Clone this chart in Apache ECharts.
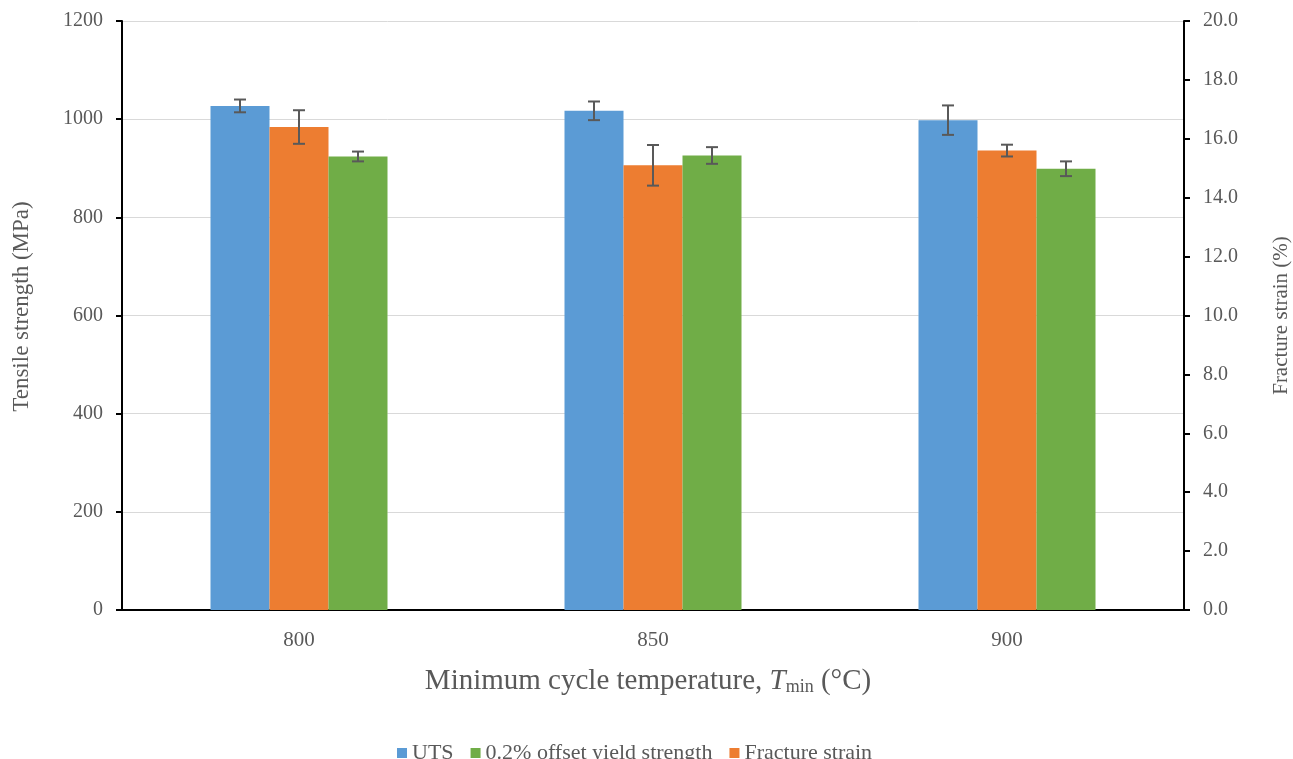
<!DOCTYPE html>
<html>
<head>
<meta charset="utf-8">
<script src="https://cdn.jsdelivr.net/npm/echarts@6/dist/echarts.min.js"></script>
<style>html,body{margin:0;padding:0;background:#fff}#c{width:1293px;height:759px}</style>
</head>
<body>
<div id="c"></div>
<script>
const categories = ['800', '850', '900'];
const utsValues = [1027, 1017, 998];
const utsErrors = [13, 19, 30];
const strainValues = [16.4, 15.1, 15.6];
const strainErrors = [0.57, 0.69, 0.2];
const yieldValues = [924, 926, 899];
const yieldErrors = [10, 17, 15];
const leftTicks = [0, 200, 400, 600, 800, 1000, 1200];
const rightTicks = [0, 2, 4, 6, 8, 10, 12, 14, 16, 18, 20];

const FONT = '"Liberation Serif", "Times New Roman", serif';
const LABEL = '#595959';

function errSeries(name, values, errors, yAxisIndex, slot) {
  return {
    type: 'custom',
    name: name + ' err',
    yAxisIndex: yAxisIndex,
    silent: true,
    z: 5,
    data: values.map((v, i) => [i, v, errors[i]]),
    renderItem: function (params, api) {
      const i = api.value(0), v = api.value(1), e = api.value(2);
      const bw = api.size([1, 0])[0];
      const barW = bw * 0.5 / 3;
      const off = (slot - 1) * barW;
      const hi = api.coord([i, v + e]);
      const lo = api.coord([i, v - e]);
      const x = hi[0] + off;
      const cap = 6;
      const st = { stroke: '#595959', lineWidth: 2 };
      return {
        type: 'group',
        children: [
          { type: 'line', shape: { x1: x, y1: hi[1], x2: x, y2: lo[1] }, style: st },
          { type: 'line', shape: { x1: x - cap, y1: hi[1], x2: x + cap, y2: hi[1] }, style: st },
          { type: 'line', shape: { x1: x - cap, y1: lo[1], x2: x + cap, y2: lo[1] }, style: st }
        ]
      };
    }
  };
}

const chart = echarts.init(document.getElementById('c'), null, { renderer: 'canvas' });
chart.setOption({
  animation: false,
  textStyle: { fontFamily: FONT },
  grid: { left: 122, right: 109, top: 21, bottom: 149, containLabel: false, outerBoundsMode: 'none' },
  legend: {
    top: 737,
    left: 392,
    data: ['UTS', '0.2% offset yield strength', 'Fracture strain'],
    icon: 'rect',
    itemWidth: 10,
    itemHeight: 10,
    itemGap: 17,
    textStyle: { fontFamily: FONT, fontSize: 22, color: LABEL }
  },
  xAxis: {
    type: 'category',
    data: categories,
    axisLine: { lineStyle: { color: '#000', width: 2 } },
    axisTick: { alignWithLabel: true, length: 6, lineStyle: { color: '#000', width: 2 } },
    axisLabel: { fontFamily: FONT, fontSize: 21, color: LABEL, margin: 20 },
    name: '{n|Minimum cycle temperature, }{i|T}{s|min}{n| (°C)}',
    nameLocation: 'middle',
    nameGap: 56,
    nameTextStyle: {
      padding: [0, 10, 0, 0],
      rich: {
        n: { fontFamily: FONT, fontSize: 29, color: LABEL },
        i: { fontFamily: FONT, fontSize: 29, color: LABEL, fontStyle: 'italic' },
        s: { fontFamily: FONT, fontSize: 18, color: LABEL, verticalAlign: 'bottom', padding: [12, 0, 0, 0] }
      }
    }
  },
  yAxis: [
    {
      type: 'value',
      min: leftTicks[0],
      max: leftTicks[leftTicks.length - 1],
      interval: 200,
      axisLine: { show: true, lineStyle: { color: '#000', width: 2 } },
      axisTick: { show: true, length: 6, lineStyle: { color: '#000', width: 2 } },
      axisLabel: { fontFamily: FONT, fontSize: 20, color: LABEL, margin: 19, formatter: v => String(v) },
      splitLine: { show: true, lineStyle: { color: '#d9d9d9', width: 1 } },
      name: 'Tensile strength (MPa)',
      nameLocation: 'middle',
      nameRotate: 90,
      nameGap: 89,
      nameTextStyle: { fontFamily: FONT, fontSize: 23, color: LABEL, padding: [0, 0, 0, 18] }
    },
    {
      type: 'value',
      position: 'right',
      min: rightTicks[0],
      max: rightTicks[rightTicks.length - 1],
      interval: 2,
      axisLine: { show: true, lineStyle: { color: '#000', width: 2 } },
      axisTick: { show: true, length: 6, lineStyle: { color: '#000', width: 2 } },
      axisLabel: { fontFamily: FONT, fontSize: 20, color: LABEL, margin: 19, formatter: v => v.toFixed(1) },
      splitLine: { show: false },
      name: 'Fracture strain (%)',
      nameLocation: 'middle',
      nameRotate: 90,
      nameGap: 87,
      nameTextStyle: { fontFamily: FONT, fontSize: 21, color: LABEL }
    }
  ],
  series: [
    { type: 'bar', name: 'UTS', data: utsValues, yAxisIndex: 0, barGap: '0%', barCategoryGap: '50%', itemStyle: { color: '#5B9BD5' } },
    { type: 'bar', name: 'Fracture strain', data: strainValues, yAxisIndex: 1, barGap: '0%', barCategoryGap: '50%', itemStyle: { color: '#ED7D31' } },
    { type: 'bar', name: '0.2% offset yield strength', data: yieldValues, yAxisIndex: 0, barGap: '0%', barCategoryGap: '50%', itemStyle: { color: '#70AD47' } },
    errSeries('UTS', utsValues, utsErrors, 0, 0),
    errSeries('Fracture strain', strainValues, strainErrors, 1, 1),
    errSeries('0.2% offset yield strength', yieldValues, yieldErrors, 0, 2)
  ]
});
</script>
</body>
</html>
